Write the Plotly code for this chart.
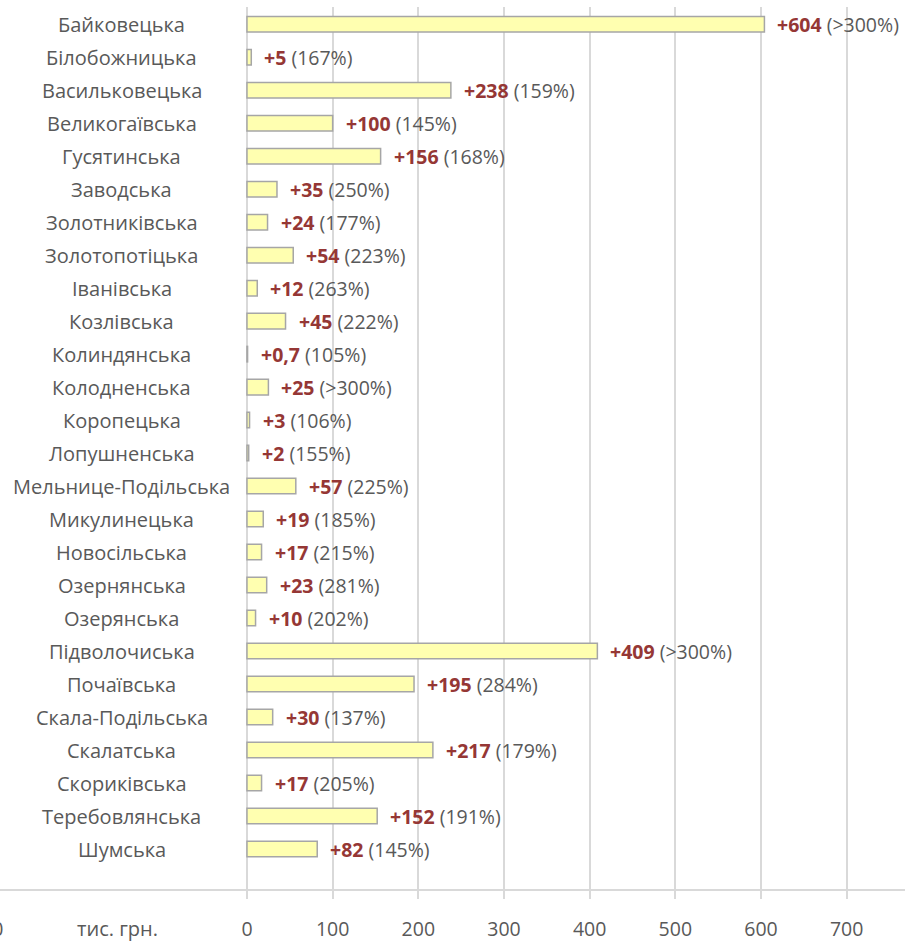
import plotly.graph_objects as go

communities = ["Байковецька", "Білобожницька", "Васильковецька", "Великогаївська",
               "Гусятинська", "Заводська", "Золотниківська", "Золотопотіцька",
               "Іванівська", "Козлівська", "Колиндянська", "Колодненська",
               "Коропецька", "Лопушненська", "Мельнице-Подільська", "Микулинецька",
               "Новосільська", "Озернянська", "Озерянська", "Підволочиська",
               "Почаївська", "Скала-Подільська", "Скалатська", "Скориківська",
               "Теребовлянська", "Шумська"]
growth = [604, 5, 238, 100, 156, 35, 24, 54, 12, 45, 0.7, 25, 3, 2, 57, 19, 17,
          23, 10, 409, 195, 30, 217, 17, 152, 82]
growth_pct = [">300%", "167%", "159%", "145%", "168%", "250%", "177%", "223%",
              "263%", "222%", "105%", ">300%", "106%", "155%", "225%", "185%",
              "215%", "281%", "202%", ">300%", "284%", "137%", "179%", "205%",
              "191%", "145%"]
x_ticks = [0, 100, 200, 300, 400, 500, 600, 700]

GREY = "#595959"
RED = "#953735"
GRID = "#d9d9d9"
FONT = "Open Sans"

fig = go.Figure()
fig.add_trace(go.Bar(
    x=growth, y=communities, orientation="h", width=0.47,
    marker=dict(color="#ffffb0", line=dict(color="#a6a6a6", width=1.5)),
    hoverinfo="skip", showlegend=False,
))

annotations = []
for name, v, p in zip(communities, growth, growth_pct):
    val = "+" + f"{v:g}".replace(".", ",")
    annotations.append(dict(
        x=v, y=name, xref="x", yref="y", xanchor="left", xshift=11,
        showarrow=False,
        text=f"<span style='color:{RED}'><b>{val}</b></span> ({p})",
        font=dict(family=FONT, size=19.5, color=GREY),
    ))
    annotations.append(dict(
        x=0.1343, y=name, xref="paper", yref="y", xanchor="center",
        showarrow=False, text=name,
        font=dict(family=FONT, size=20, color=GREY),
    ))

# unit caption under the category column, plus the clipped edge label
annotations.append(dict(
    x=0.13, y=-0.0445, xref="paper", yref="paper", xanchor="center", yanchor="middle",
    showarrow=False, text="тис. грн.", font=dict(family=FONT, size=20, color=GREY),
))
annotations.append(dict(
    x=-0.003, y=-0.0445, xref="paper", yref="paper", xanchor="center", yanchor="middle",
    showarrow=False, text="0", font=dict(family=FONT, size=20, color=GREY),
))

fig.update_layout(
    width=905, height=941,
    margin=dict(l=0, r=0, t=7, b=52),
    plot_bgcolor="white", paper_bgcolor="white",
    font=dict(family=FONT, size=19, color=GREY),
    annotations=annotations,
    xaxis=dict(
        range=[-288.3, 768.1], tickvals=x_ticks, showgrid=True, automargin=False,
        gridcolor=GRID, gridwidth=1.5, zeroline=False,
        showline=True, linecolor=GRID, linewidth=1.5,
        ticks="outside", ticklen=8, tickcolor=GRID, tickwidth=1.5,
        ticklabelstandoff=14,
        tickfont=dict(family=FONT, size=19.5, color=GREY),
    ),
    yaxis=dict(
        range=[26.21, -0.52], showticklabels=False, showgrid=False, automargin=False,
        zeroline=False, showline=False, ticks="",
    ),
)

# drop the default 8px page margin so the figure sits at the window's corner
fig.write_html("out.html", config={"displayModeBar": False},
               post_script="document.body.style.margin='0';")
